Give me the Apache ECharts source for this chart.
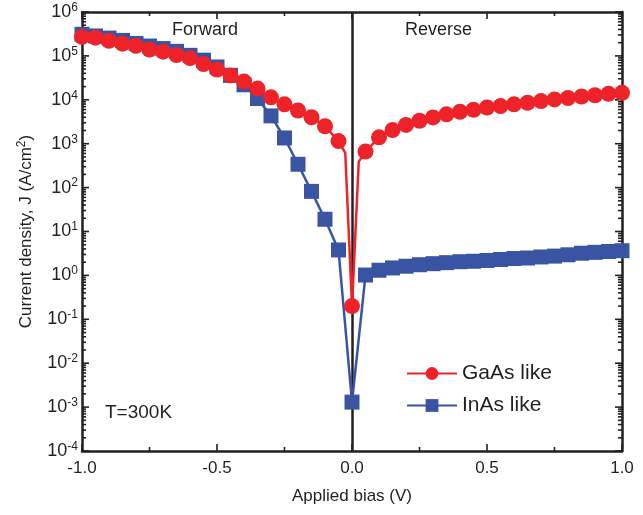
<!DOCTYPE html>
<html><head><meta charset="utf-8">
<script src="https://cdn.jsdelivr.net/npm/echarts@6/dist/echarts.min.js"></script>
<style>html,body{margin:0;padding:0;background:#fff}#c{width:643px;height:515px}</style>
</head><body><div id="c"></div>
<script>
// ---- data ----
const gaasBias = [-1.0,-0.95,-0.9,-0.85,-0.8,-0.75,-0.7,-0.65,-0.6,-0.55,-0.5,-0.45,-0.4,-0.35,-0.3,-0.25,-0.2,-0.15,-0.1,-0.05,
  -0.025,0,0.025,
  0.05,0.1,0.15,0.2,0.25,0.3,0.35,0.4,0.45,0.5,0.55,0.6,0.65,0.7,0.75,0.8,0.85,0.9,0.95,1.0];
const gaasJ = [2.7e5,2.6e5,2.2e5,1.9e5,1.7e5,1.4e5,1.25e5,1.05e5,8.9e4,6.5e4,4.9e4,3.6e4,2.6e4,1.8e4,1.14e4,7.9e3,5.7e3,4.0e3,2.5e3,1.15e3,
  620,0.2,390,
  660,1400,2040,2680,3330,3970,4660,5350,5910,6670,7200,7870,8570,9340,1.02e4,1.10e4,1.19e4,1.27e4,1.37e4,1.44e4];
const gaasUnmarked = [-0.025,0.025];   // dense curve points shown without a marker

const inasBias = [-1.0,-0.95,-0.9,-0.85,-0.8,-0.75,-0.7,-0.65,-0.6,-0.55,-0.5,-0.45,-0.4,-0.35,-0.3,-0.25,-0.2,-0.15,-0.1,-0.05,
  0,
  0.05,0.1,0.15,0.2,0.25,0.3,0.35,0.4,0.45,0.5,0.55,0.6,0.65,0.7,0.75,0.8,0.85,0.9,0.95,1.0];
const inasJ = [3.1e5,2.85e5,2.55e5,2.25e5,1.92e5,1.68e5,1.47e5,1.27e5,1.03e5,8.0e4,5.6e4,3.6e4,2.2e4,1.07e4,4.3e3,1.35e3,340,82,19,3.8,
  1.3e-3,
  1.02,1.31,1.48,1.62,1.75,1.85,1.95,2.05,2.1,2.19,2.3,2.43,2.49,2.63,2.75,2.95,3.2,3.35,3.5,3.65];

const xTicks = [-1.0,-0.5,0.0,0.5,1.0];
const xMinorTicks = [-0.75,-0.25,0.25,0.75];
const yDecades = [-4,-3,-2,-1,0,1,2,3,4,5,6];
const minorMantissas = [2,3,4,5,6,7,8,9];
const seriesNames = ['GaAs like','InAs like'];
const annotations = ['Forward','Reverse','T=300K'];

// ---- build ----
const RED = '#ee2329', BLUE = '#3a54a4', INK = '#231f20';
const minorVals = [];
yDecades.slice(0,-1).forEach(d => minorMantissas.forEach(m => minorVals.push(m*Math.pow(10,d))));
const majorVals = yDecades.map(d => Math.pow(10,d));

const gaasData = gaasBias.map((x,i) => gaasUnmarked.includes(x)
  ? {value:[x,gaasJ[i]], symbol:'none'} : {value:[x,gaasJ[i]]});
const inasData = inasBias.map((x,i) => [x,inasJ[i]]);

// tick marks: [xValue, yValue, side(0 left,1 right,2 bottom,3 top), length]
const tickData = [];
[0,1].forEach(s => {
  majorVals.forEach(v => tickData.push([0, v, s, 7]));
  minorVals.forEach(v => tickData.push([0, v, s, 4]));
});
[2,3].forEach(s => {
  xTicks.forEach(v => tickData.push([v, 1, s, 7]));
  xMinorTicks.forEach(v => tickData.push([v, 1, s, 4]));
});

const FONT = 'Liberation Sans, Arial, sans-serif';
function mkLine() { return {show:true, onZero:false, lineStyle:{color:INK, width:2.5}}; }

const chart = echarts.init(document.getElementById('c'), null, {renderer:'canvas'});
chart.setOption({
  animation:false,
  backgroundColor:'#fff',
  grid:{left:82, right:21, top:12, bottom:64, containLabel:false},
  xAxis:[
    {type:'value', min:-1, max:1, interval:0.5, position:'bottom', axisLine:mkLine(),
     axisTick:{show:false}, minorTick:{show:false},
     axisLabel:{show:true, margin:9, fontSize:17, fontFamily:FONT, color:INK, formatter: v => v.toFixed(1)},
     splitLine:{show:false}, minorSplitLine:{show:false},
     name:'Applied bias (V)', nameLocation:'middle', nameGap:37,
     nameTextStyle:{fontSize:17, fontFamily:FONT, color:INK}},
    {type:'value', min:-1, max:1, interval:0.5, position:'top', axisLine:mkLine(),
     axisTick:{show:false}, axisLabel:{show:false}, splitLine:{show:false}}
  ],
  yAxis:[
    {type:'log', min:1e-4, max:1e6, position:'left', axisLine:mkLine(), axisTick:{show:false},
     axisLabel:{show:true, margin:4, fontFamily:FONT, color:INK,
       formatter: v => '{b|10}{s|' + Math.round(Math.log10(v)) + '}',
       rich:{ b:{fontSize:18, fontFamily:FONT, color:INK}, s:{fontSize:12, fontFamily:FONT, color:INK, padding:[0,0,9,0]} }},
     splitLine:{show:false},
     name:'Current density, J (A/cm{s|2})', nameLocation:'middle', nameGap:45,
     nameTextStyle:{fontSize:17, fontFamily:FONT, color:INK,
       rich:{s:{fontSize:12, fontFamily:FONT, color:INK, padding:[0,0,9,0]}}}},
    {type:'log', min:1e-4, max:1e6, position:'right', axisLine:mkLine(), axisTick:{show:false},
     axisLabel:{show:false}, splitLine:{show:false}}
  ],
  legend:{
    data: seriesNames, orient:'vertical', left:401, top:358, itemWidth:50, itemHeight:16, itemGap:11,
    textStyle:{fontSize:21, fontFamily:FONT, color:INK}
  },
  graphic:[
    {type:'text', left:172, top:21, style:{text:annotations[0], fontSize:18, fontFamily:FONT, fill:INK}},
    {type:'text', left:405, top:21, style:{text:annotations[1], fontSize:18, fontFamily:FONT, fill:INK}},
    {type:'text', left:105, top:403, style:{text:annotations[2], fontSize:19, fontFamily:FONT, fill:INK}}
  ],
  series:[
    {
      type:'custom', name:'ticks', xAxisIndex:0, yAxisIndex:0, silent:true, clip:false, z:1,
      data: tickData,
      encode:{x:0, y:1},
      renderItem: (params, api) => {
        const cs = params.coordSys;
        const p = api.coord([api.value(0), api.value(1)]);
        const side = api.value(2), len = api.value(3);
        let x1, y1, x2, y2;
        if (side === 0) { x1 = cs.x; x2 = cs.x + len; y1 = y2 = p[1]; }
        else if (side === 1) { x1 = cs.x + cs.width; x2 = x1 - len; y1 = y2 = p[1]; }
        else if (side === 2) { y1 = cs.y + cs.height; y2 = y1 - len; x1 = x2 = p[0]; }
        else { y1 = cs.y; y2 = cs.y + len; x1 = x2 = p[0]; }
        return {type:'line', shape:{x1, y1, x2, y2}, style:{stroke:INK, lineWidth:1.6}};
      }
    },
    {
      name: seriesNames[1], type:'line', xAxisIndex:0, yAxisIndex:0, data:inasData,
      symbol:'rect', symbolSize:15, color:BLUE,
      lineStyle:{color:BLUE, width:2.5}, itemStyle:{color:BLUE},
      markLine:{silent:true, symbol:'none', label:{show:false}, z:1,
        lineStyle:{color:INK, width:2.5, type:'solid'}, data:[{xAxis:0}]},
      z:2
    },
    {
      name: seriesNames[0], type:'line', xAxisIndex:0, yAxisIndex:0, data:gaasData,
      symbol:'circle', symbolSize:16, color:RED,
      lineStyle:{color:RED, width:2.5}, itemStyle:{color:RED},
      z:3
    }
  ]
});
</script>
</body></html>
